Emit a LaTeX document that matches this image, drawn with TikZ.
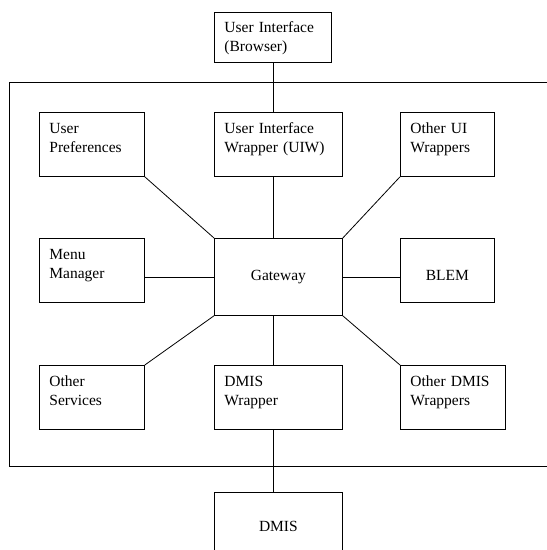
\documentclass[tikz,border=0pt]{standalone}
\usepackage{fontspec}
\setmainfont{Liberation Serif}
\begin{document}
\begin{tikzpicture}[x=1pt,y=-1pt,
	every node/.style={font=\fontsize{15.5pt}{19pt}\selectfont},
	blk/.style={draw, line width=0.8pt, anchor=north west, inner xsep=10pt, inner ysep=0pt, align=left},
	pair/.style={text height=21pt, text depth=43pt},
	link/.style={line width=0.8pt}]
	\useasboundingbox (0,0) rectangle (547,550);
	\clip (0,0) rectangle (547,550);
	\draw[link] (9,82) rectangle (560,466);
	\node[blk, text width=97pt, text height=20pt, text depth=30pt] (ui) at (214,12) {User Interface\\(Browser)};
	\node[blk, pair, text width=85pt] (pref) at (39,112) {User\\Preferences};
	\node[blk, pair, text width=108pt] (uiw) at (214,112) {User Interface\\Wrapper (UIW)};
	\node[blk, pair, text width=74pt] (oui) at (400,112) {Other UI\\Wrappers};
	\node[blk, pair, text width=85pt] (menu) at (39,238) {Menu\\Manager};
	\node[blk, text width=108pt, text height=42pt, text depth=35pt, align=center] (gw) at (214,238) {Gateway};
	\node[blk, text width=74pt, text height=42pt, text depth=22pt, align=center] (blem) at (400,238) {BLEM};
	\node[blk, pair, text width=85pt] (osv) at (39,365) {Other\\Services};
	\node[blk, pair, text width=108pt] (dmw) at (214,365) {DMIS\\Wrapper};
	\node[blk, pair, text width=85pt] (odm) at (400,365) {Other DMIS\\Wrappers};
	\node[blk, text width=108pt, text height=39pt, text depth=29pt, align=center] (dmis) at (214,492) {DMIS};
	\draw[link] (ui.south) -- (ui.south |- uiw.north);
	\draw[link] (uiw.south -| ui.south) -- (gw.north -| ui.south);
	\draw[link] (gw.south -| ui.south) -- (dmw.north -| ui.south);
	\draw[link] (dmw.south -| ui.south) -- (dmis.north -| ui.south);
	\draw[link] (pref.south east) -- (gw.north west);
	\draw[link] (oui.south west) -- (gw.north east);
	\draw[link] (osv.north east) -- (gw.south west);
	\draw[link] (odm.north west) -- (gw.south east);
	\draw[link] (gw.west) -- (gw.west -| menu.east);
	\draw[link] (gw.east) -- (gw.east -| blem.west);
\end{tikzpicture}
\end{document}
